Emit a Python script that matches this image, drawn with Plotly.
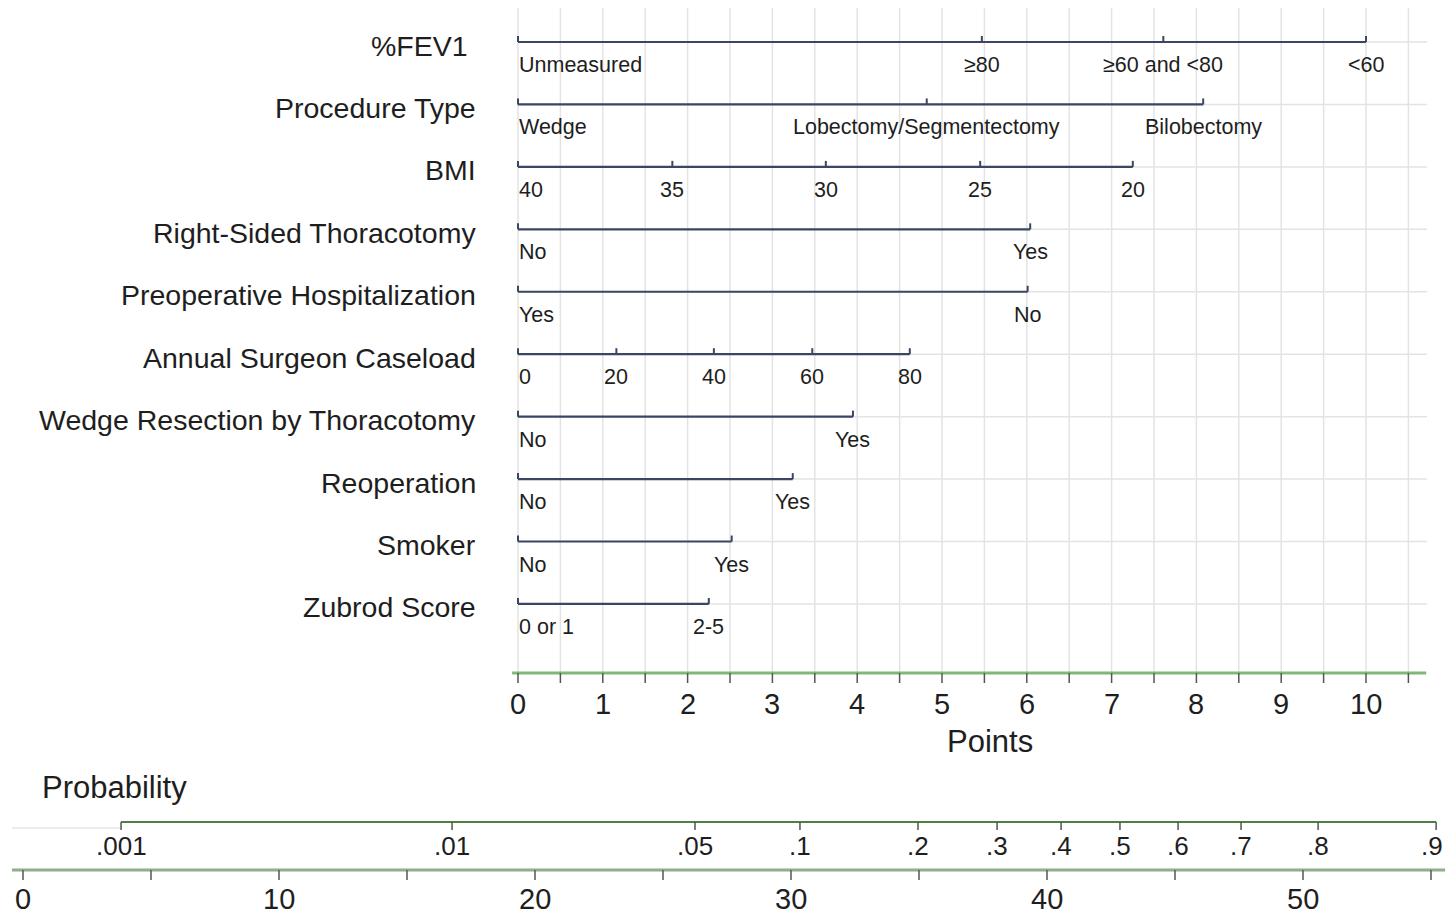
import plotly.graph_objects as go

# ---------------- data ----------------
variables = ["%FEV1", "Procedure Type", "BMI", "Right-Sided Thoracotomy",
             "Preoperative Hospitalization", "Annual Surgeon Caseload",
             "Wedge Resection by Thoracotomy", "Reoperation", "Smoker", "Zubrod Score"]

fev1_labels = ["Unmeasured", "≥80", "≥60 and <80", "<60"]
fev1_points = [0, 5.47, 7.61, 10.0]
proc_labels = ["Wedge", "Lobectomy/Segmentectomy", "Bilobectomy"]
proc_points = [0, 4.82, 8.08]
bmi_labels = ["40", "35", "30", "25", "20"]
bmi_points = [0, 1.82, 3.63, 5.45, 7.25]
rst_labels = ["No", "Yes"]
rst_points = [0, 6.04]
hosp_labels = ["Yes", "No"]
hosp_points = [0, 6.01]
case_labels = ["0", "20", "40", "60", "80"]
case_points = [0, 1.16, 2.31, 3.47, 4.62]
wedge_labels = ["No", "Yes"]
wedge_points = [0, 3.95]
reop_labels = ["No", "Yes"]
reop_points = [0, 3.24]
smoker_labels = ["No", "Yes"]
smoker_points = [0, 2.52]
zubrod_labels = ["0 or 1", "2-5"]
zubrod_points = [0, 2.25]

points_ticks = [0, 0.5, 1, 1.5, 2, 2.5, 3, 3.5, 4, 4.5, 5, 5.5, 6, 6.5, 7, 7.5, 8, 8.5, 9, 9.5, 10, 10.5]
points_labels = [0, 1, 2, 3, 4, 5, 6, 7, 8, 9, 10]
total_ticks = [0, 5, 10, 15, 20, 25, 30, 35, 40, 45, 50, 55]
total_labels = [0, 10, 20, 30, 40, 50]
prob_labels = [".001", ".01", ".05", ".1", ".2", ".3", ".4", ".5", ".6", ".7", ".8", ".9"]
prob_total_points = [3.83, 16.76, 26.25, 30.35, 34.96, 38.05, 40.55, 42.85, 45.12, 47.58, 50.59, 55.2]

rows = [(fev1_labels, fev1_points), (proc_labels, proc_points), (bmi_labels, bmi_points),
        (rst_labels, rst_points), (hosp_labels, hosp_points), (case_labels, case_points),
        (wedge_labels, wedge_points), (reop_labels, reop_points),
        (smoker_labels, smoker_points), (zubrod_labels, zubrod_points)]

# ---------------- layout constants (page pixels) ----------------
PAGE_W, PAGE_H = 1450, 917
OFF = 0                      # body margin removed via post_script
FW, FH = PAGE_W - OFF, PAGE_H - OFF
PX0, PPU = 518.0, 84.8      # points axis: pixel of 0, pixels per point
TX0, TPU = 23.0, 25.6       # total points axis
ROW0, ROWH = 42.0, 62.44    # first row pixel, row spacing


def yv(px):
    return (px - ROW0) / ROWH


def dy(px):
    return px / ROWH


FONT = "Liberation Sans, Arial, Helvetica, sans-serif"
TXT = "#1e1e1e"
ROWCOL = "#3a4662"
GRID = "#e3e3e3"

fig = go.Figure()

# gridlines (vertical at every points tick, horizontal at each row)
gx, gy = [], []
for t in points_ticks:
    gx += [t, t, None]
    gy += [yv(8), yv(673), None]
for i in range(len(rows)):
    gx += [0, 10.72, None]
    gy += [i, i, None]
fig.add_trace(go.Scatter(x=gx, y=gy, mode="lines", line=dict(color=GRID, width=1.5),
                         hoverinfo="skip", showlegend=False))

annotations = []

# nomogram rows
for i, (labs, pts) in enumerate(rows):
    lx, ly = [pts[0], pts[-1]], [i, i]
    fig.add_trace(go.Scatter(x=lx, y=ly, mode="lines", line=dict(color=ROWCOL, width=2.2),
                             hoverinfo="skip", showlegend=False))
    tx, ty = [], []
    for p in pts:
        tx += [p, p, None]
        ty += [i, i - dy(6), None]
    fig.add_trace(go.Scatter(x=tx, y=ty, mode="lines", line=dict(color=ROWCOL, width=2),
                             hoverinfo="skip", showlegend=False))
    annotations.append(dict(x=-0.472, y=i + dy(3.5), xref="x", yref="y", text=variables[i],
                            showarrow=False, xanchor="right", yanchor="middle",
                            xshift=-8 if i == 0 else 0,
                            font=dict(family=FONT, size=28.5, color=TXT)))
    for k, (lab, p) in enumerate(zip(labs, pts)):
        annotations.append(dict(x=p, y=i + dy(23), xref="x", yref="y", text=lab,
                                showarrow=False, xanchor="left" if k == 0 else "center",
                                xshift=-1 if k == 0 else 0, yanchor="middle",
                                font=dict(family=FONT, size=21.5, color=TXT)))

# points axis
yp = yv(673)
fig.add_trace(go.Scatter(x=[-0.07, 10.71], y=[yp, yp], mode="lines",
                         line=dict(color="#82b877", width=3), hoverinfo="skip", showlegend=False))
tx, ty = [], []
for t in points_ticks:
    tx += [t, t, None]
    ty += [yp, yp + dy(10), None]
fig.add_trace(go.Scatter(x=tx, y=ty, mode="lines", line=dict(color="#555555", width=1.5),
                         hoverinfo="skip", showlegend=False))
for v in points_labels:
    annotations.append(dict(x=v, y=yv(704), xref="x", yref="y", text=str(v), showarrow=False,
                            xanchor="center", yanchor="middle",
                            font=dict(family=FONT, size=29, color=TXT)))
annotations.append(dict(x=(990 - PX0) / PPU, y=yv(741), xref="x", yref="y", text="Points",
                        showarrow=False, xanchor="center", yanchor="middle",
                        font=dict(family=FONT, size=31, color=TXT)))

# probability axis (on total points scale)
ypr = yv(822)
fig.add_trace(go.Scatter(x=[-0.43, prob_total_points[0]], y=[yv(828), yv(828)], mode="lines",
                         line=dict(color="#e6e6e6", width=1.5), hoverinfo="skip",
                         showlegend=False, xaxis="x2"))
fig.add_trace(go.Scatter(x=[prob_total_points[0], prob_total_points[-1]], y=[ypr, ypr],
                         mode="lines", line=dict(color="#4f7f45", width=2.2),
                         hoverinfo="skip", showlegend=False, xaxis="x2"))
tx, ty = [], []
for t in prob_total_points:
    tx += [t, t, None]
    ty += [ypr, ypr + dy(8), None]
fig.add_trace(go.Scatter(x=tx, y=ty, mode="lines", line=dict(color="#4a5a48", width=1.5),
                         hoverinfo="skip", showlegend=False, xaxis="x2"))
for k, (lab, t) in enumerate(zip(prob_labels, prob_total_points)):
    annotations.append(dict(x=t, y=yv(846), xref="x2", yref="y", text=lab, showarrow=False,
                            xanchor="center", yanchor="middle",
                            xshift=-4 if k == len(prob_labels) - 1 else 0,
                            font=dict(family=FONT, size=26, color=TXT)))
annotations.append(dict(x=(40 - TX0) / TPU, y=yv(787), xref="x2", yref="y", text="Probability",
                        showarrow=False, xanchor="left", yanchor="middle",
                        font=dict(family=FONT, size=31, color=TXT)))

# total points axis
ytp = yv(870)
fig.add_trace(go.Scatter(x=[-0.43, 55.55], y=[ytp, ytp], mode="lines",
                         line=dict(color="#8fae8a", width=3), hoverinfo="skip",
                         showlegend=False, xaxis="x2"))
tx, ty = [], []
for t in total_ticks:
    tx += [t, t, None]
    ty += [ytp, ytp + dy(10), None]
fig.add_trace(go.Scatter(x=tx, y=ty, mode="lines", line=dict(color="#555555", width=1.5),
                         hoverinfo="skip", showlegend=False, xaxis="x2"))
for v in total_labels:
    annotations.append(dict(x=v, y=yv(899), xref="x2", yref="y", text=str(v), showarrow=False,
                            xanchor="center", yanchor="middle",
                            font=dict(family=FONT, size=29, color=TXT)))

fig.update_layout(
    width=FW, height=FH,
    margin=dict(l=0, r=0, t=0, b=0),
    paper_bgcolor="white", plot_bgcolor="white",
    showlegend=False,
    xaxis=dict(range=[(OFF - PX0) / PPU, (PAGE_W - PX0) / PPU], visible=False, fixedrange=True),
    xaxis2=dict(range=[(OFF - TX0) / TPU, (PAGE_W - TX0) / TPU], overlaying="x", visible=False,
                fixedrange=True),
    yaxis=dict(range=[yv(PAGE_H), yv(OFF)], visible=False, fixedrange=True),
    annotations=annotations,
)

fig.write_html("out.html",
               config={"displayModeBar": False},
               post_script="document.body.style.margin='0';document.body.style.overflow='hidden';")
